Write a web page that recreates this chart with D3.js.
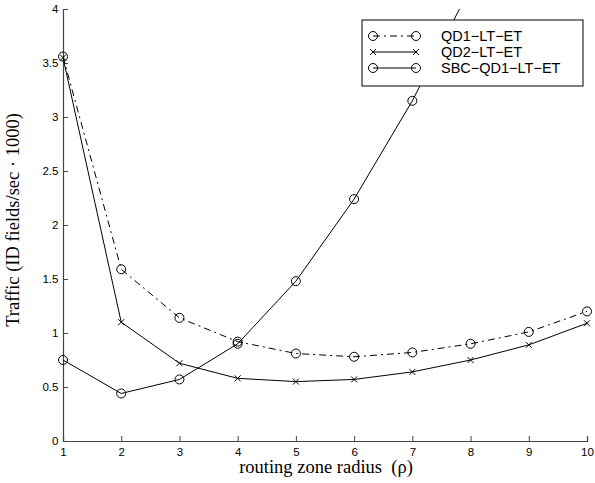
<!DOCTYPE html>
<html>
<head>
<meta charset="utf-8">
<script src="https://cdn.jsdelivr.net/npm/d3@7"></script>
<style>
  html, body { margin: 0; padding: 0; background: #fff; }
  svg { display: block; }
</style>
</head>
<body>
<svg id="chart" width="595" height="483"></svg>
<script>
// routing zone radius values
const radius = [1, 2, 3, 4, 5, 6, 7, 8, 9, 10];
// traffic in ID fields/sec · 1000
const qd1 = [3.56, 1.59, 1.14, 0.92, 0.81, 0.78, 0.82, 0.90, 1.01, 1.20];
const qd2 = [3.55, 1.10, 0.72, 0.58, 0.55, 0.57, 0.64, 0.75, 0.89, 1.09];
const sbc = [0.75, 0.44, 0.57, 0.90, 1.48, 2.24, 3.15, 4.20];
const xTicks = [1, 2, 3, 4, 5, 6, 7, 8, 9, 10];
const yTicks = [0, 0.5, 1, 1.5, 2, 2.5, 3, 3.5, 4];
const seriesNames = ["QD1\u2212LT\u2212ET", "QD2\u2212LT\u2212ET", "SBC\u2212QD1\u2212LT\u2212ET"];

const svg = d3.select("#chart");
const plotLeft = 63, plotRight = 587, plotTop = 9, plotBottom = 441;

const x = d3.scaleLinear().domain([1, 10]).range([plotLeft, plotRight]);
const y = d3.scaleLinear().domain([0, 4]).range([plotBottom, plotTop]);

svg.append("defs").append("clipPath").attr("id", "plotClip")
  .append("rect").attr("x", plotLeft).attr("y", plotTop)
  .attr("width", plotRight - plotLeft).attr("height", plotBottom - plotTop);

// axes with inward ticks
const xAxis = d3.axisBottom(x).tickValues(xTicks).tickSize(-5).tickPadding(8)
  .tickFormat(d3.format("d"));
const yAxis = d3.axisLeft(y).tickValues(yTicks).tickSize(-5).tickPadding(8)
  .tickFormat(d => d3.format("")(d));

const gx = svg.append("g").attr("transform", `translate(0,${plotBottom})`).call(xAxis);
const gy = svg.append("g").attr("transform", `translate(${plotLeft},0)`).call(yAxis);
[gx, gy].forEach(g => {
  g.select(".domain").attr("stroke", "#444").attr("stroke-width", 1.2);
  g.selectAll(".tick line").attr("stroke", "#444");
  g.selectAll(".tick text").attr("font-family", "Liberation Sans, Arial, sans-serif")
    .attr("font-size", 11.5).attr("fill", "#000");
});
gx.selectAll(".tick text").attr("dy", "0.6em");
gy.selectAll(".tick text").attr("dx", "0.3em");

const line = d3.line().x((d, i) => x(radius[i])).y(d => y(d));
const plot = svg.append("g").attr("clip-path", "url(#plotClip)");

const plotMarkers = svg.append("g");

function drawMarkers(g, pts, marker) {
  pts.forEach(([px, py]) => {
    if (marker === "o") {
      g.append("circle").attr("cx", px).attr("cy", py).attr("r", 4.5)
        .attr("fill", "none").attr("stroke", "#000").attr("stroke-width", 1);
    } else {
      const s = 3;
      g.append("path")
        .attr("d", `M${px - s},${py - s}L${px + s},${py + s}M${px - s},${py + s}L${px + s},${py - s}`)
        .attr("stroke", "#000").attr("stroke-width", 1);
    }
  });
}

function drawSeries(values, dash, marker) {
  plot.append("path").datum(values)
    .attr("fill", "none").attr("stroke", "#000").attr("stroke-width", 1)
    .attr("stroke-dasharray", dash).attr("d", line);
  const pts = values.map((v, i) => [x(radius[i]), y(v)]).filter(p => p[1] >= plotTop);
  drawMarkers(plotMarkers, pts, marker);
}

drawSeries(qd1, "7,4,2,4", "o");
drawSeries(qd2, null, "x");
drawSeries(sbc, null, "o");

// legend
const legend = svg.append("g");
legend.append("rect").attr("x", 362).attr("y", 20).attr("width", 221).attr("height", 66)
  .attr("fill", "#fff").attr("stroke", "#000").attr("stroke-width", 1);
const styles = [
  { dash: "7,4,2,4", marker: "o" },
  { dash: null, marker: "x" },
  { dash: null, marker: "o" }
];
const rowY = [36, 52, 68];
seriesNames.forEach((name, i) => {
  const yy = rowY[i];
  legend.append("line").attr("x1", 373).attr("x2", 416).attr("y1", yy).attr("y2", yy)
    .attr("stroke", "#000").attr("stroke-width", 1).attr("stroke-dasharray", styles[i].dash);
  drawMarkers(legend, [[373, yy], [416, yy]], styles[i].marker);
  legend.append("text").attr("x", 441).attr("y", yy + 5)
    .attr("font-family", "Liberation Sans, Arial, sans-serif").attr("font-size", 14.5)
    .text(name);
});

// axis titles
svg.append("text").attr("x", 326).attr("y", 473).attr("text-anchor", "middle")
  .attr("font-family", "Liberation Serif, Times New Roman, serif").attr("font-size", 18.5)
  .attr("xml:space", "preserve")
  .text("routing zone radius  (\u03C1)");
svg.append("text").attr("transform", "translate(19,220) rotate(-90)").attr("text-anchor", "middle")
  .attr("font-family", "Liberation Serif, Times New Roman, serif").attr("font-size", 18.5)
  .text("Traffic (ID fields/sec \u00B7 1000)");
</script>
</body>
</html>
